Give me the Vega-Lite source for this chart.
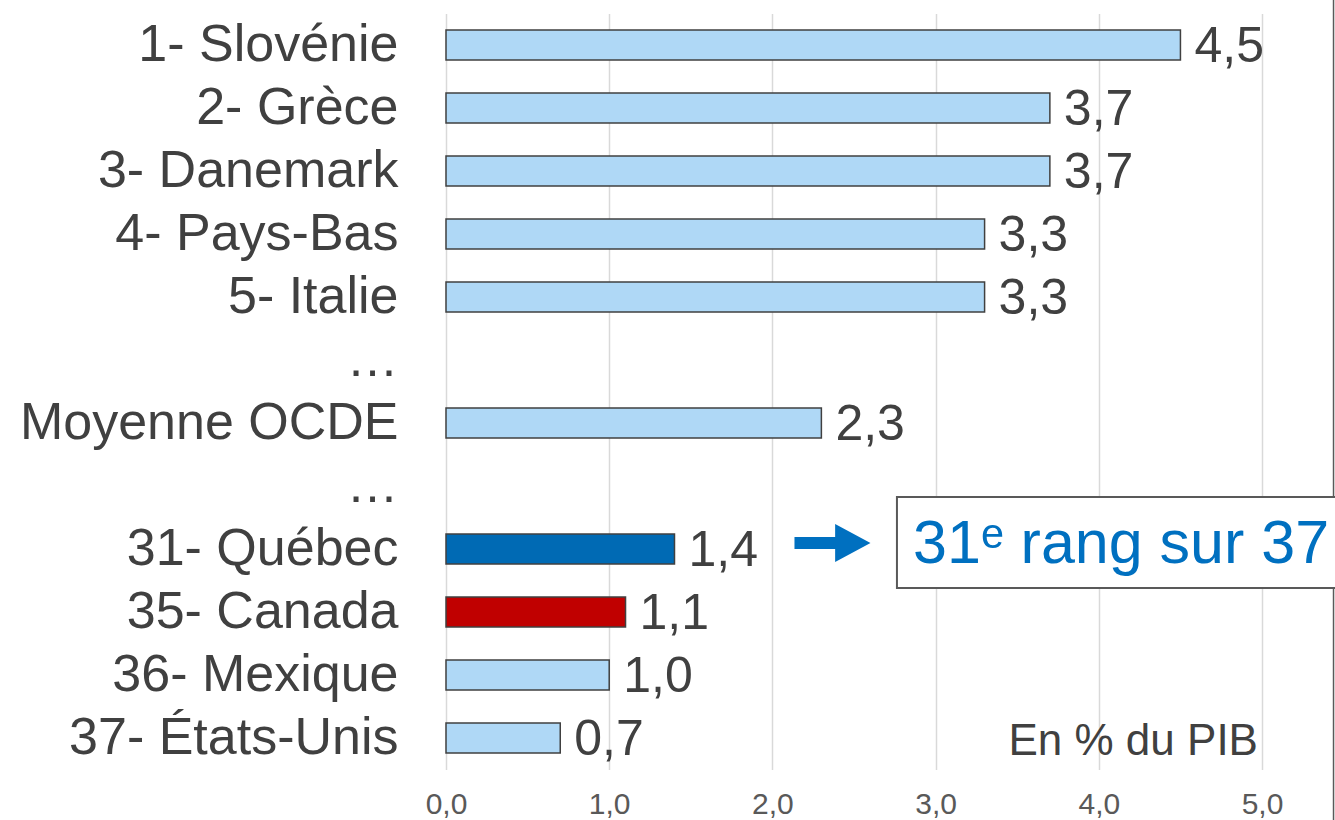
{
  "$schema": "https://vega.github.io/schema/vega-lite/v6.json",
  "width": 889,
  "height": 756,
  "autosize": {"type": "none"},
  "padding": {"left": 446, "top": 13.5, "right": 0, "bottom": 50.5},
  "background": "white",
  "config": {
    "view": {"stroke": null},
    "font": "Liberation Sans",
    "locale": {"number": {"decimal": ",", "thousands": " ", "grouping": [3], "currency": ["", " €"]}},
    "axisX": {
      "domain": false, "ticks": false, "tickSize": 0,
      "grid": true, "gridColor": "#D9D9D9", "gridWidth": 1.5,
      "labelFontSize": 30, "labelColor": "#595959", "labelPadding": 20,
      "labelFont": "Liberation Sans", "labelFlush": false, "labelOverlap": false
    },
    "axisY": {
      "domain": false, "ticks": false, "grid": false,
      "labelFontSize": 52, "labelColor": "#404040", "labelPadding": 48,
      "labelLimit": 600, "labelFont": "Liberation Sans"
    }
  },
  "datasets": {
    "bars": [
      {"pays": "1- Slovénie", "valeur": 4.5, "groupe": "autre"},
      {"pays": "2- Grèce", "valeur": 3.7, "groupe": "autre"},
      {"pays": "3- Danemark", "valeur": 3.7, "groupe": "autre"},
      {"pays": "4- Pays-Bas", "valeur": 3.3, "groupe": "autre"},
      {"pays": "5- Italie", "valeur": 3.3, "groupe": "autre"},
      {"pays": "Moyenne OCDE", "valeur": 2.3, "groupe": "autre"},
      {"pays": "31- Québec", "valeur": 1.4, "groupe": "quebec"},
      {"pays": "35- Canada", "valeur": 1.1, "groupe": "canada"},
      {"pays": "36- Mexique", "valeur": 1.0, "groupe": "autre"},
      {"pays": "37- États-Unis", "valeur": 0.7, "groupe": "autre"}
    ],
    "cadre": [{"valeur": 5.438, "y": -0.3, "y2": 12.9}],
    "boite": [{"valeur": 2.763, "x2": 5.6, "y": 7.675, "y2": 9.12}],
    "fleche": [{"valeur": 2.368, "y": 8.405}],
    "annot": [{"valeur": 2.862, "y": 8.44, "texte": "31ᵉ rang sur 37"}],
    "unite": [{"valeur": 4.975, "y": 11.56, "texte": "En % du PIB"}]
  },
  "layer": [
    {
      "layer": [
        {
          "data": {"name": "bars"},
          "mark": {"type": "bar", "stroke": "#404040", "strokeWidth": 1.5},
          "encoding": {
            "y": {
              "field": "pays", "type": "nominal",
              "scale": {
                "domain": ["1- Slovénie", "2- Grèce", "3- Danemark", "4- Pays-Bas", "5- Italie", "…1", "Moyenne OCDE", "…2", "31- Québec", "35- Canada", "36- Mexique", "37- États-Unis"],
                "paddingInner": 0.52, "paddingOuter": 0.26
              },
              "axis": {
                "title": null,
                "labelExpr": "indexof(datum.value, '…') === 0 ? '…' : datum.value"
              }
            },
            "x": {
              "field": "valeur", "type": "quantitative",
              "scale": {"domain": [0, 5.447], "nice": false, "zero": true},
              "axis": {"title": null, "values": [0, 1, 2, 3, 4, 5], "format": ".1f"}
            },
            "color": {
              "field": "groupe", "type": "nominal",
              "scale": {"domain": ["autre", "quebec", "canada"], "range": ["#AFD8F6", "#006AB4", "#C00000"]},
              "legend": null
            }
          }
        },
        {
          "data": {"name": "bars"},
          "mark": {"type": "text", "align": "left", "baseline": "middle", "dx": 14, "dy": 2, "fontSize": 50, "color": "#404040", "font": "Liberation Sans"},
          "encoding": {
            "y": {"field": "pays", "type": "nominal"},
            "x": {"field": "valeur", "type": "quantitative"},
            "text": {"field": "valeur", "type": "quantitative", "format": ".1f"}
          }
        }
      ]
    },
    {
      "data": {"name": "cadre"},
      "mark": {"type": "rule", "color": "#595959", "strokeWidth": 1.5},
      "encoding": {
        "x": {"field": "valeur", "type": "quantitative"},
        "y": {"field": "y", "type": "quantitative", "scale": {"domain": [0, 12], "reverse": true, "nice": false, "zero": false}, "axis": null},
        "y2": {"field": "y2"}
      }
    },
    {
      "data": {"name": "boite"},
      "mark": {"type": "rect", "fill": "white", "stroke": "#595959", "strokeWidth": 2},
      "encoding": {
        "x": {"field": "valeur", "type": "quantitative"},
        "x2": {"field": "x2"},
        "y": {"field": "y", "type": "quantitative", "scale": {"domain": [0, 12], "reverse": true, "nice": false, "zero": false}, "axis": null},
        "y2": {"field": "y2"}
      }
    },
    {
      "data": {"name": "fleche"},
      "mark": {"type": "point", "filled": true, "fill": "#0070C0", "opacity": 1, "strokeWidth": 0, "size": 5776,
        "shape": "M -1 -0.16 L 0.07 -0.16 L 0.07 -0.5 L 1 0 L 0.07 0.5 L 0.07 0.16 L -1 0.16 Z"},
      "encoding": {
        "x": {"field": "valeur", "type": "quantitative"},
        "y": {"field": "y", "type": "quantitative", "scale": {"domain": [0, 12], "reverse": true, "nice": false, "zero": false}, "axis": null}
      }
    },
    {
      "data": {"name": "annot"},
      "mark": {"type": "text", "align": "left", "baseline": "middle", "fontSize": 61, "color": "#0070C0", "font": "Liberation Sans"},
      "encoding": {
        "x": {"field": "valeur", "type": "quantitative"},
        "y": {"field": "y", "type": "quantitative", "scale": {"domain": [0, 12], "reverse": true, "nice": false, "zero": false}, "axis": null},
        "text": {"field": "texte"}
      }
    },
    {
      "data": {"name": "unite"},
      "mark": {"type": "text", "align": "right", "baseline": "middle", "fontSize": 44, "color": "#404040", "font": "Liberation Sans"},
      "encoding": {
        "x": {"field": "valeur", "type": "quantitative"},
        "y": {"field": "y", "type": "quantitative", "scale": {"domain": [0, 12], "reverse": true, "nice": false, "zero": false}, "axis": null},
        "text": {"field": "texte"}
      }
    }
  ],
  "resolve": {"scale": {"y": "independent"}}
}
